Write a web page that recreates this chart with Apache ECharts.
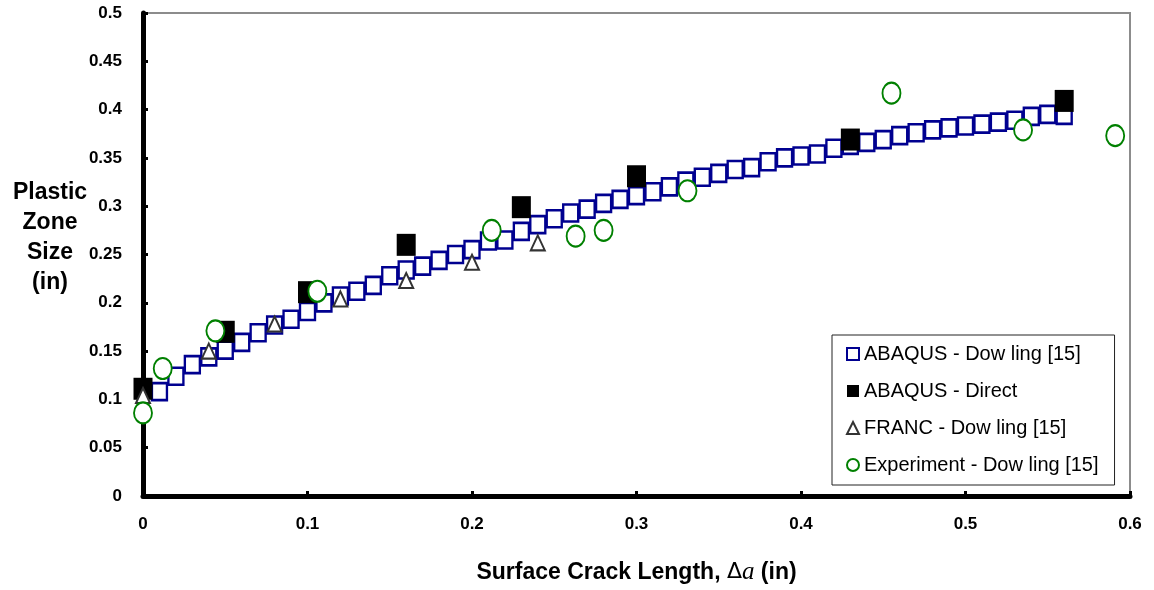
<!DOCTYPE html>
<html>
<head>
<meta charset="utf-8">
<script src="https://cdn.jsdelivr.net/npm/echarts@6/dist/echarts.min.js"></script>
<style>
	html, body { margin: 0; padding: 0; background: #fff; }
	#chart { width: 1154px; height: 590px; }
</style>
</head>
<body>
<div id="chart"></div>
<script>
	// ABAQUS - Dowling [15]
	var abaqusDowlingX = [0.01, 0.02, 0.03, 0.04, 0.05, 0.06, 0.07, 0.08, 0.09, 0.10,
		0.11, 0.12, 0.13, 0.14, 0.15, 0.16, 0.17, 0.18, 0.19, 0.20,
		0.21, 0.22, 0.23, 0.24, 0.25, 0.26, 0.27, 0.28, 0.29, 0.30,
		0.31, 0.32, 0.33, 0.34, 0.35, 0.36, 0.37, 0.38, 0.39, 0.40,
		0.41, 0.42, 0.43, 0.44, 0.45, 0.46, 0.47, 0.48, 0.49, 0.50,
		0.51, 0.52, 0.53, 0.54, 0.55, 0.56];
	var abaqusDowlingY = [0.108, 0.124, 0.136, 0.144, 0.151, 0.159, 0.169, 0.177, 0.183, 0.191,
		0.200, 0.207, 0.212, 0.218, 0.228, 0.234, 0.238, 0.244, 0.250, 0.255,
		0.264, 0.265, 0.274, 0.281, 0.287, 0.293, 0.297, 0.303, 0.307, 0.311,
		0.315, 0.320, 0.326, 0.330, 0.334, 0.338, 0.340, 0.346, 0.350, 0.352,
		0.354, 0.360, 0.363, 0.366, 0.369, 0.373, 0.376, 0.379, 0.381, 0.383,
		0.385, 0.387, 0.389, 0.393, 0.395, 0.394];
	// ABAQUS - Direct
	var abaqusDirectX = [0, 0.05, 0.10, 0.16, 0.23, 0.30, 0.43, 0.56];
	var abaqusDirectY = [0.111, 0.170, 0.211, 0.260, 0.299, 0.331, 0.369, 0.409];
	// FRANC - Dowling [15]
	var francX = [0, 0.04, 0.08, 0.12, 0.16, 0.20, 0.24];
	var francY = [0.104, 0.150, 0.178, 0.204, 0.223, 0.242, 0.262];
	// Experiment - Dowling [15]
	var expX = [0, 0.012, 0.044, 0.106, 0.212, 0.263, 0.280, 0.331, 0.455, 0.535, 0.591];
	var expY = [0.086, 0.132, 0.171, 0.212, 0.275, 0.269, 0.275, 0.316, 0.417, 0.379, 0.373];

	var seriesNames = ['ABAQUS - Dow ling [15]', 'ABAQUS - Direct', 'FRANC - Dow ling [15]', 'Experiment - Dow ling [15]'];

	function pairs(xs, ys) {
		return xs.map(function (x, i) { return [x, ys[i]]; });
	}

	var ellipse = 'path://M0,-1A1,1,0,1,1,0,1A1,1,0,1,1,0,-1z';
	var labelFont = 'Liberation Sans';

	var myChart = echarts.init(document.getElementById('chart'));
	var option = {
		animation: false,
		backgroundColor: '#fff',
		grid: {
			left: 143,
			top: 13,
			right: 24,
			bottom: 89,
			show: true,
			borderColor: '#8c8c8c',
			borderWidth: 2,
			backgroundColor: 'transparent'
		},
		graphic: [{
			type: 'text',
			x: 50,
			y: 178,
			style: {
				text: 'Plastic\nZone\nSize\n(in)',
				font: 'bold 23px "Liberation Sans"',
				fill: '#000',
				align: 'center',
				lineHeight: 30
			}
		}],
		legend: {
			orient: 'vertical',
			left: 832,
			top: 335,
			padding: [9, 16, 10, 14],
			itemWidth: 12,
			itemHeight: 12,
			itemGap: 17,
			borderColor: '#222',
			borderWidth: 1,
			backgroundColor: '#fff',
			textStyle: { fontFamily: labelFont, fontSize: 20, color: '#000', lineHeight: 20 },
			data: seriesNames
		},
		xAxis: {
			type: 'value',
			min: 0,
			max: 0.6,
			interval: 0.1,
			name: 'Surface Crack Length, {d|Δ}{a|a} (in)',
			nameLocation: 'middle',
			nameGap: 64,
			nameTextStyle: {
				fontFamily: labelFont, fontWeight: 'bold', fontSize: 23, color: '#000',
				rich: {
					d: { fontFamily: 'DejaVu Sans', fontWeight: 'normal', fontSize: 22, color: '#000' },
					a: { fontFamily: 'Liberation Serif', fontStyle: 'italic', fontWeight: 'normal', fontSize: 25, color: '#000' }
				}
			},
			axisLine: { lineStyle: { color: '#000', width: 5 } },
			axisTick: { inside: true, length: 5, lineStyle: { color: '#000', width: 3 } },
			axisLabel: {
				margin: 20,
				fontFamily: labelFont, fontWeight: 'bold', fontSize: 17, color: '#000',
				formatter: function (v) { return String(+v.toFixed(2)); }
			},
			splitLine: { show: false }
		},
		yAxis: {
			type: 'value',
			min: 0,
			max: 0.5,
			interval: 0.05,
			axisLine: { lineStyle: { color: '#000', width: 5 } },
			axisTick: { inside: true, length: 5, lineStyle: { color: '#000', width: 3 } },
			axisLabel: {
				margin: 21,
				fontFamily: labelFont, fontWeight: 'bold', fontSize: 17, color: '#000',
				formatter: function (v) { return String(+v.toFixed(2)); }
			},
			splitLine: { show: false }
		},
		series: [{
			name: seriesNames[0],
			type: 'scatter',
			symbol: 'rect',
			symbolSize: [15, 17],
			z: 2,
			itemStyle: { color: '#fff', borderColor: '#000090', borderWidth: 2.5, opacity: 1 },
			data: pairs(abaqusDowlingX, abaqusDowlingY)
		}, {
			name: seriesNames[1],
			type: 'scatter',
			symbol: 'rect',
			symbolSize: [19, 22],
			z: 3,
			itemStyle: { color: '#000', opacity: 1 },
			data: pairs(abaqusDirectX, abaqusDirectY)
		}, {
			name: seriesNames[2],
			type: 'scatter',
			symbol: 'triangle',
			symbolSize: [14, 15],
			z: 4,
			itemStyle: { color: '#fff', borderColor: '#333', borderWidth: 2, opacity: 1 },
			data: pairs(francX, francY)
		}, {
			name: seriesNames[3],
			type: 'scatter',
			symbol: ellipse,
			symbolSize: [18, 21],
			z: 5,
			itemStyle: { color: '#fff', borderColor: '#008000', borderWidth: 2, opacity: 1 },
			data: pairs(expX, expY)
		}]
	};
	myChart.setOption(option);
</script>
</body>
</html>
